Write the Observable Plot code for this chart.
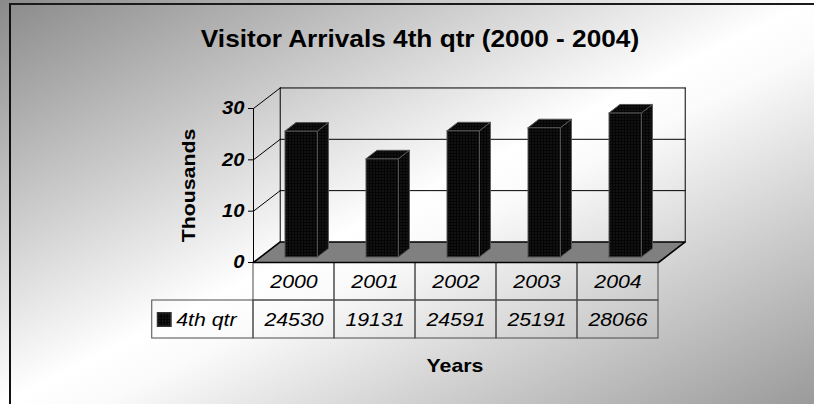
<!DOCTYPE html>
<html><head><meta charset="utf-8">
<script src="https://cdn.jsdelivr.net/npm/d3@7"></script>
<script src="https://cdn.jsdelivr.net/npm/@observablehq/plot@0.6"></script>
<style>
html,body{margin:0;padding:0;background:#fff;}
#chart{position:relative;width:814px;height:404px;overflow:hidden;
 background:linear-gradient(to bottom right,#8a8a8a 0%,#ffffff 50%,#fbfbfb 56%,#9a9a9a 100%);
 font-family:"Liberation Sans",Arial,sans-serif;color:#000;}
#chart svg{position:absolute;left:0;top:0;background:transparent !important;}
.frame{position:absolute;left:9px;top:3px;right:-4px;bottom:-4px;border-top:2px solid #1a1a1a;border-left:2px solid #111;}
.txt{position:absolute;text-align:center;font-weight:bold;white-space:nowrap;transform-origin:center;}
</style></head>
<body>
<div id="chart">
  <div class="frame"></div>
</div>
<script>
// ---- data ----
const years = ["2000", "2001", "2002", "2003", "2004"];
const arrivals = [24530, 19131, 24591, 25191, 28066];
const seriesName = "4th qtr";
const yTicks = [0, 10, 20, 30];
const titleText = "Visitor Arrivals 4th qtr (2000 - 2004)";
const yLabel = "Thousands";
const xLabel = "Years";

// ---- 3D projection (style) ----
const DX = 0.33, DY = 4.0;          // full depth offset in x-units / y-units
const BAR_W = 0.4, D0 = 0.27, D1 = 0.68;
const STRETCH = 1.12;
const P = (x, v, d) => ({x: x + d * DX, y: v + d * DY});
const poly = (id, pts) => [...pts, pts[0]].map(p => ({...p, id}));
const seg = (id, a, b) => [a, b].map(p => ({...p, id}));

const nCat = years.length;
const yMax = yTicks[yTicks.length - 1];

const floor = poly("floor", [P(0,0,0), P(nCat,0,0), P(nCat,0,1), P(0,0,1)]);
const gridLines = [];
yTicks.slice(1).forEach(v => {
  gridLines.push(...seg("side" + v, P(0, v, 0), P(0, v, 1)));
  gridLines.push(...seg("back" + v, P(0, v, 1), P(nCat, v, 1)));
});
gridLines.push(...seg("wallL", P(0, 0, 1), P(0, yMax, 1)));
gridLines.push(...seg("wallR", P(nCat, 0, 1), P(nCat, yMax, 1)));
const frontAxis = seg("axis", P(0, 0, 0), P(0, yMax, 0));

const faces = [];
arrivals.forEach((a, i) => {
  const v = a / 1000, xl = i + 0.5 - BAR_W / 2, xr = i + 0.5 + BAR_W / 2;
  faces.push(...poly("f" + i, [P(xl,0,D0), P(xr,0,D0), P(xr,v,D0), P(xl,v,D0)]));
  faces.push(...poly("s" + i, [P(xr,0,D0), P(xr,0,D1), P(xr,v,D1), P(xr,v,D0)]));
  faces.push(...poly("t" + i, [P(xl,v,D0), P(xr,v,D0), P(xr,v,D1), P(xl,v,D1)]));
});

const font = "Liberation Sans, Arial, sans-serif";
const SVGNS = "http://www.w3.org/2000/svg";
function addPattern(svg, id) {
  const defs = document.createElementNS(SVGNS, "defs");
  const pat = document.createElementNS(SVGNS, "pattern");
  pat.setAttribute("id", id); pat.setAttribute("width", 3); pat.setAttribute("height", 3);
  pat.setAttribute("patternUnits", "userSpaceOnUse");
  const r1 = document.createElementNS(SVGNS, "rect");
  r1.setAttribute("width", 3); r1.setAttribute("height", 3); r1.setAttribute("fill", "#050505");
  const r2 = document.createElementNS(SVGNS, "rect");
  r2.setAttribute("x", 1); r2.setAttribute("y", 1); r2.setAttribute("width", 1); r2.setAttribute("height", 1);
  r2.setAttribute("fill", "#383838");
  pat.append(r1, r2); defs.append(pat); svg.prepend(defs);
}
function stretch(svg, s) {
  svg.querySelectorAll("text").forEach(t => {
    const xa = t.getAttribute("x");
    const x = xa && /^-?[\d.]+$/.test(xa.trim()) ? parseFloat(xa) : 0;
    const tr = t.getAttribute("transform") || "";
    t.setAttribute("transform", `${tr} translate(${x},0) scale(${s},1) translate(${-x},0)`.trim());
  });
}

const chart = Plot.plot({
  width: 814, height: 404,
  marginLeft: 253, marginRight: 156, marginTop: 108, marginBottom: 142,
  style: {fontFamily: font, background: "transparent", overflow: "visible"},
  x: {domain: [0, nCat], axis: null},
  y: {domain: [0, yMax], axis: null},
  marks: [
    Plot.line(floor, {x: "x", y: "y", z: "id", fill: "#808080", stroke: "#000", strokeWidth: 1.6}),
    Plot.line(gridLines, {x: "x", y: "y", z: "id", stroke: "#000", strokeWidth: 1}),
    Plot.line(frontAxis, {x: "x", y: "y", z: "id", stroke: "#000", strokeWidth: 1}),
    Plot.ruleY(yTicks, {x1: 0, x2: 0, insetLeft: -5, stroke: "#000", strokeWidth: 1}),
    Plot.text(yTicks, {x: 0, y: d => d, text: d => String(d), dx: -9, textAnchor: "end",
      fontSize: 18, fontWeight: "bold", fontStyle: "italic", fill: "#000"}),
    Plot.line(faces, {x: "x", y: "y", z: "id", fill: "url(#dots)", stroke: "#555", strokeWidth: 1, strokeLinejoin: "round"})
  ]
});
addPattern(chart, "dots");
stretch(chart, STRETCH);

// ---- data table ----
const rows = ["year", "value"];
const cells = [
  ...years.map((y, i) => ({x1: i, x2: i + 1, row: "year"})),
  {x1: -1.25, x2: 0, row: "value"},
  ...years.map((y, i) => ({x1: i, x2: i + 1, row: "value"}))
];
const table = Plot.plot({
  width: 814, height: 404,
  marginLeft: 253, marginRight: 156, marginTop: 262, marginBottom: 66,
  style: {fontFamily: font, background: "transparent", overflow: "visible"},
  x: {domain: [0, nCat], axis: null},
  y: {type: "band", domain: rows, padding: 0, axis: null},
  marks: [
    Plot.barX(cells, {x1: "x1", x2: "x2", y: "row", fill: "none", stroke: "#4a4a4a", strokeWidth: 1}),
    Plot.text(years, {x: (d, i) => i + 0.5, y: () => "year", text: d => d, fontSize: 19, fontStyle: "italic", fill: "#000"}),
    Plot.text(arrivals, {x: (d, i) => i + 0.5, y: () => "value", text: d => String(d), fontSize: 19, fontStyle: "italic", fill: "#000"}),
    Plot.dot([seriesName], {x: -1.25, y: () => "value", dx: 12, symbol: "square", r: 7.6, fill: "url(#dots2)", stroke: "#333"}),
    Plot.text([seriesName], {x: -1.25, y: () => "value", text: d => d, dx: 24, textAnchor: "start", fontSize: 19, fontStyle: "italic", fill: "#000"})
  ]
});
addPattern(table, "dots2");
stretch(table, STRETCH);

const root = document.getElementById("chart");
root.append(table, chart);

function addText(text, css) {
  const d = document.createElement("div");
  d.className = "txt"; d.textContent = text; Object.assign(d.style, css);
  root.append(d);
}
addText(titleText, {left: "170px", width: "500px", top: "28px", fontSize: "23.4px", lineHeight: "23px", transform: `scaleX(${STRETCH})`});
addText(yLabel, {left: "87.5px", width: "200px", top: "175.5px", fontSize: "19px", lineHeight: "19px", transform: `rotate(-90deg) scaleX(${STRETCH})`});
addText(xLabel, {left: "355px", width: "200px", top: "356px", fontSize: "19px", lineHeight: "19px", transform: `scaleX(${STRETCH})`});
</script>
</body></html>
